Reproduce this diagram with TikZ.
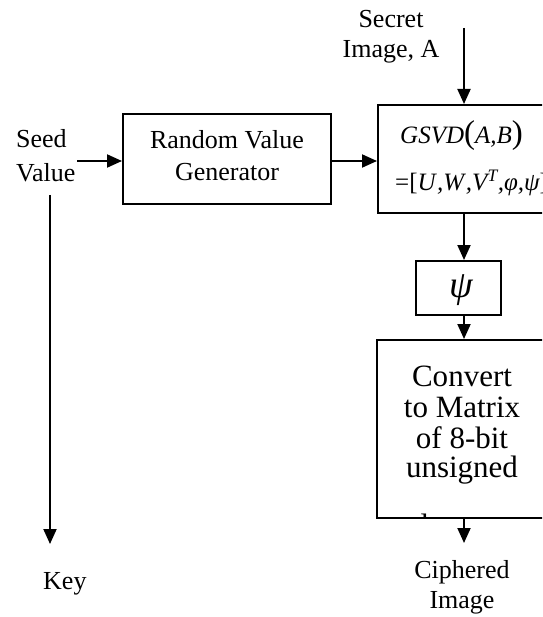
\documentclass[tikz,border=0pt]{standalone}
\usepackage{fontspec}
\setmainfont{Liberation Serif}
\usetikzlibrary{arrows.meta}
\begin{document}
\begin{tikzpicture}[x=1pt,y=-1pt,
  box/.style={draw,line width=2pt,inner sep=0pt},
  arr/.style={line width=2pt,-{Triangle[length=15pt,width=13pt]}},
  txt/.style={inner sep=0pt,font=\fontsize{26}{32}\selectfont},
  big/.style={inner sep=0pt,font=\fontsize{31}{31}\selectfont},
  mth/.style={inner sep=0pt,font=\fontsize{25}{28}\selectfont\itshape}]
\useasboundingbox (0,0) rectangle (542,617);
\clip (0,0) rectangle (542,617);

% boxes
\node[box,minimum width=208pt,minimum height=90pt] (rvg) at (227,159) {};
\node[box,minimum width=222pt,minimum height=108pt] (gsvd) at (489,159) {};
\node[box,minimum width=85pt,minimum height=54pt] (psi) at (458.5,288) {};
\node[box,minimum width=223pt,minimum height=178pt] (conv) at (488.5,429) {};

% texts
\node[txt,anchor=base] (sec1) at (391,28) {Secret};
\node[txt,anchor=base] (sec2) at (391,58) {Image, A};
\node[txt,anchor=base west] (seed1) at (16,148) {Seed};
\node[txt,anchor=base west] (seed2) at (16,182) {Value};
\node[txt,anchor=base] (rvg1) at (227,149) {Random Value};
\node[txt,anchor=base] (rvg2) at (227,181) {Generator};
\node[mth,anchor=base west] (g1) at (400,144)
  {GSVD{\upshape\fontsize{33}{33}\selectfont(}A,B{\upshape\fontsize{33}{33}\selectfont)}};
\node[mth,anchor=base west] (g2) at (395,191)
  {{\upshape=[}U\/,W\/,V\textsuperscript{T}\/,φ,ψ{\upshape]}};
\node[inner sep=0pt,font=\fontsize{38}{38}\selectfont\itshape] (psit) at (461,290) {ψ};
\node[big,anchor=base] (c1) at (462,386) {Convert};
\node[big,anchor=base] (c2) at (462,417) {to Matrix};
\node[big,anchor=base] (c3) at (462,448) {of 8-bit};
\node[big,anchor=base] (c4) at (462,477) {unsigned};
\begin{scope}
  \clip (379,341) rectangle (541,516.5);
  \node[big,anchor=base] (c5) at (462,535) {elements};
\end{scope}
\node[txt,anchor=base] (ci1) at (462,578) {Ciphered};
\node[txt,anchor=base] (ci2) at (462,608) {Image};
\node[txt,anchor=base west] (key) at (43,589) {Key};

% connector helpers
\coordinate (sa) at (464,28);
\coordinate (ks) at (50,195);
\coordinate (ke) at (50,544);
\coordinate (se) at (77,161);
\coordinate (ce) at (464,543);

% connectors
\draw[arr] (sa) -- (sa |- gsvd.north);
\draw[arr] (se) -- (se -| rvg.west);
\draw[arr] (rvg.east |- se) -- (gsvd.west |- se);
\draw[arr] (ks) -- (ke);
\draw[arr] (sa |- gsvd.south) -- (sa |- psi.north);
\draw[arr] (sa |- psi.south) -- (sa |- conv.north);
\draw[arr] (sa |- conv.south) -- (ce);
\end{tikzpicture}
\end{document}
